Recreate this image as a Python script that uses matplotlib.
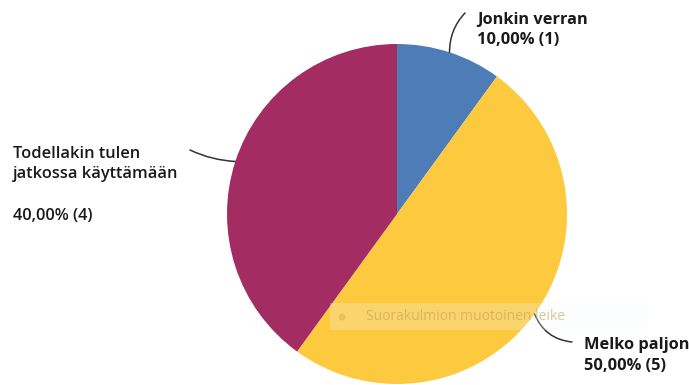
import numpy as np
import matplotlib.pyplot as plt
from matplotlib.patches import Rectangle, Circle

# Data
labels = ["Jonkin verran", "Melko paljon", "Todellakin tulen\njatkossa käyttämään\n"]
values = [10.0, 50.0, 40.0]
counts = [1, 5, 4]
colors = ["#4e7cb6", "#fdc93e", "#a32d62"]

plt.rcParams["font.family"] = ["Open Sans", "DejaVu Sans"]

W, H = 689, 385
fig = plt.figure(figsize=(W / 100, H / 100), dpi=100)
ax = fig.add_axes([0, 0, 1, 1])

cx, cy, r = 397, H - 214, 170
wedges, _ = ax.pie(values, colors=colors, startangle=90, counterclock=False,
                   center=(cx, cy), radius=r, frame=True,
                   wedgeprops=dict(linewidth=0))
ax.set_xlim(0, W)
ax.set_ylim(0, H)
ax.set_aspect("equal")
ax.axis("off")

# leader line end and first baseline of each label
ends = [(465, H - 13), (572, H - 342), (190, H - 150)]
text_pos = [(477, 24), (584, 349), (13, 158)]
rads = [0.2, -0.3, 0.1]
weights = ["bold", "bold", "semibold"]
line_h = 20.5

for w, lab, v, c, end, tp, rad, wt in zip(wedges, labels, values, counts, ends,
                                           text_pos, rads, weights):
    mid = np.deg2rad((w.theta1 + w.theta2) / 2)
    sx, sy = cx + r * np.cos(mid), cy + r * np.sin(mid)
    ax.annotate("", xy=(sx, sy), xytext=end,
                arrowprops=dict(arrowstyle="-", color="#333333", lw=1.1,
                                shrinkA=0, shrinkB=0,
                                connectionstyle=f"arc3,rad={rad}"))
    pct = f"{v:.2f}".replace(".", ",") + f"% ({c})"
    lines = (lab + "\n" + pct).split("\n")
    for i, ln in enumerate(lines):
        if ln:
            ax.text(tp[0], H - (tp[1] + i * line_h), ln, ha="left",
                    va="baseline", fontsize=11.8, fontweight=wt,
                    color="#1a1a1a")

# faint screenshot overlay
ax.add_patch(Rectangle((330, H - 330), 318, 27, facecolor="#f4f8fc",
                       alpha=0.25, edgecolor="none", zorder=5))
ax.add_patch(Circle((342, H - 317), 3.5, facecolor="#e6b443", alpha=0.6,
                    edgecolor="none", zorder=6))
ax.text(366, H - 317, "Suorakulmion muotoinen leike", fontsize=10,
        color="#c4a258", alpha=0.6, va="center", ha="left", zorder=6)

fig.savefig("out.png", dpi=100)
